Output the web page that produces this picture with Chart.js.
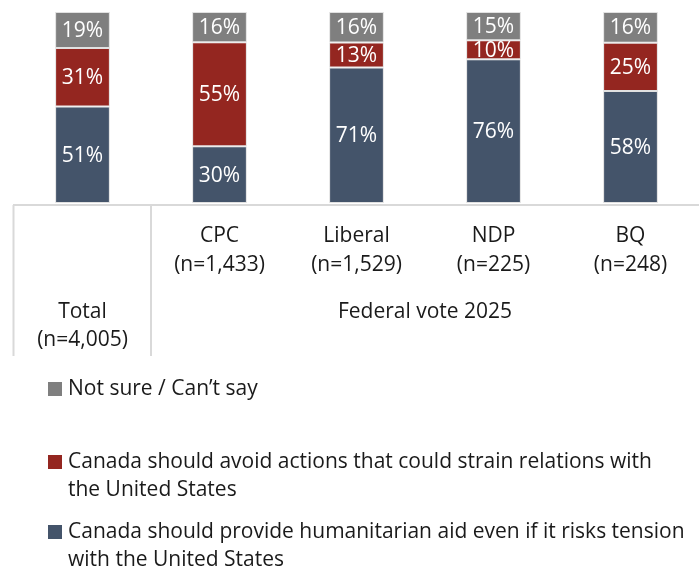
<!DOCTYPE html>
<html><head><meta charset="utf-8">
<script src="https://cdn.jsdelivr.net/npm/chart.js@4/dist/chart.umd.min.js"></script>
<style>html,body{margin:0;padding:0;background:#fff}#wrap{width:699px;height:571px;position:relative}</style>
</head><body><div id="wrap"><canvas id="c" width="699" height="571"></canvas></div>
<script>
const categories = ["Total", "CPC", "Liberal", "NDP", "BQ"];
const sampleSizes = ["(n=4,005)", "(n=1,433)", "(n=1,529)", "(n=225)", "(n=248)"];
const groupLabel = "Federal vote 2025";
const provideAid = [51, 30, 71, 76, 58];
const avoidStrain = [31, 55, 13, 10, 25];
const notSure = [19, 16, 16, 15, 16];
const seriesNames = [
  "Canada should provide humanitarian aid even if it risks tension with the United States",
  "Canada should avoid actions that could strain relations with the United States",
  "Not sure / Can\u2019t say"
];
const legendLines = [
  ["Not sure / Can\u2019t say"],
  ["Canada should avoid actions that could strain relations with", "the United States"],
  ["Canada should provide humanitarian aid even if it risks tension", "with the United States"]
];
const colors = ["#44546A", "#942620", "#7F7F7F"];
const FONT = "'Open Sans', Lato, sans-serif";
const FS = 21;

const rawSeries = [provideAid, avoidStrain, notSure];
const totals = categories.map((_, i) => rawSeries.reduce((s, a) => s + a[i], 0));
const norm = arr => arr.map((v, i) => v / totals[i] * 100);

const overlay = {
  id: 'overlay',
  afterDatasetsDraw(chart) {
    const ctx = chart.ctx;
    ctx.save();
    ctx.fillStyle = '#ffffff';
    ctx.font = FS + 'px ' + FONT;
    ctx.textAlign = 'center';
    ctx.textBaseline = 'middle';
    chart.data.datasets.forEach((ds, di) => {
      const meta = chart.getDatasetMeta(di);
      meta.data.forEach((bar, i) => {
        const p = bar.getProps(['x', 'y', 'base'], true);
        ctx.fillText(rawSeries[di][i] + '%', p.x, (p.y + p.base) / 2 + 1);
      });
    });
    ctx.restore();
  },
  afterDraw(chart) {
    const ctx = chart.ctx;
    const xs = chart.scales.x;
    const area = chart.chartArea;
    ctx.save();
    const lineY = area.bottom + 2;
    ctx.strokeStyle = '#d9d9d9';
    ctx.lineWidth = 2;
    ctx.beginPath();
    ctx.moveTo(13, lineY); ctx.lineTo(699, lineY);
    const sepX = (xs.getPixelForValue(0) + xs.getPixelForValue(1)) / 2;
    ctx.moveTo(13.5, lineY); ctx.lineTo(13.5, 356);
    ctx.moveTo(sepX, lineY); ctx.lineTo(sepX, 356);
    ctx.stroke();

    ctx.fillStyle = '#1a1a1a';
    ctx.font = FS + 'px ' + FONT;
    ctx.textAlign = 'center';
    ctx.textBaseline = 'middle';
    categories.forEach((c, i) => {
      const x = xs.getPixelForValue(i);
      if (i === 0) {
        ctx.fillText(c, x, 312);
        ctx.fillText(sampleSizes[i], x, 340);
      } else {
        ctx.fillText(c, x, 236);
        ctx.fillText(sampleSizes[i], x, 265);
      }
    });
    const gx = (xs.getPixelForValue(1) + xs.getPixelForValue(categories.length - 1)) / 2;
    ctx.fillText(groupLabel, gx, 312);

    const legendColors = [colors[2], colors[1], colors[0]];
    const legendY = [389, 462, 532];
    ctx.textAlign = 'left';
    legendLines.forEach((lines, k) => {
      ctx.fillStyle = legendColors[k];
      ctx.fillRect(48, legendY[k] - 7, 14, 14);
      ctx.fillStyle = '#1a1a1a';
      lines.forEach((t, j) => ctx.fillText(t, 68, legendY[k] + j * 28));
    });
    ctx.restore();
  }
};

new Chart(document.getElementById('c'), {
  type: 'bar',
  data: {
    labels: categories,
    datasets: rawSeries.map((arr, di) => ({
      label: seriesNames[di],
      data: norm(arr),
      backgroundColor: colors[di],
      borderColor: 'rgba(200,200,200,0.55)',
      borderWidth: 1,
      borderSkipped: false,
      barPercentage: 0.4,
      categoryPercentage: 1
    }))
  },
  options: {
    responsive: false,
    animation: false,
    devicePixelRatio: 1,
    layout: { padding: { top: 12, left: 14, right: -3, bottom: 368 } },
    plugins: { legend: { display: false }, tooltip: { enabled: false } },
    scales: {
      x: { stacked: true, display: false },
      y: { stacked: true, display: false, min: 0, max: 100 }
    }
  },
  plugins: [overlay]
});
</script>
</body></html>
